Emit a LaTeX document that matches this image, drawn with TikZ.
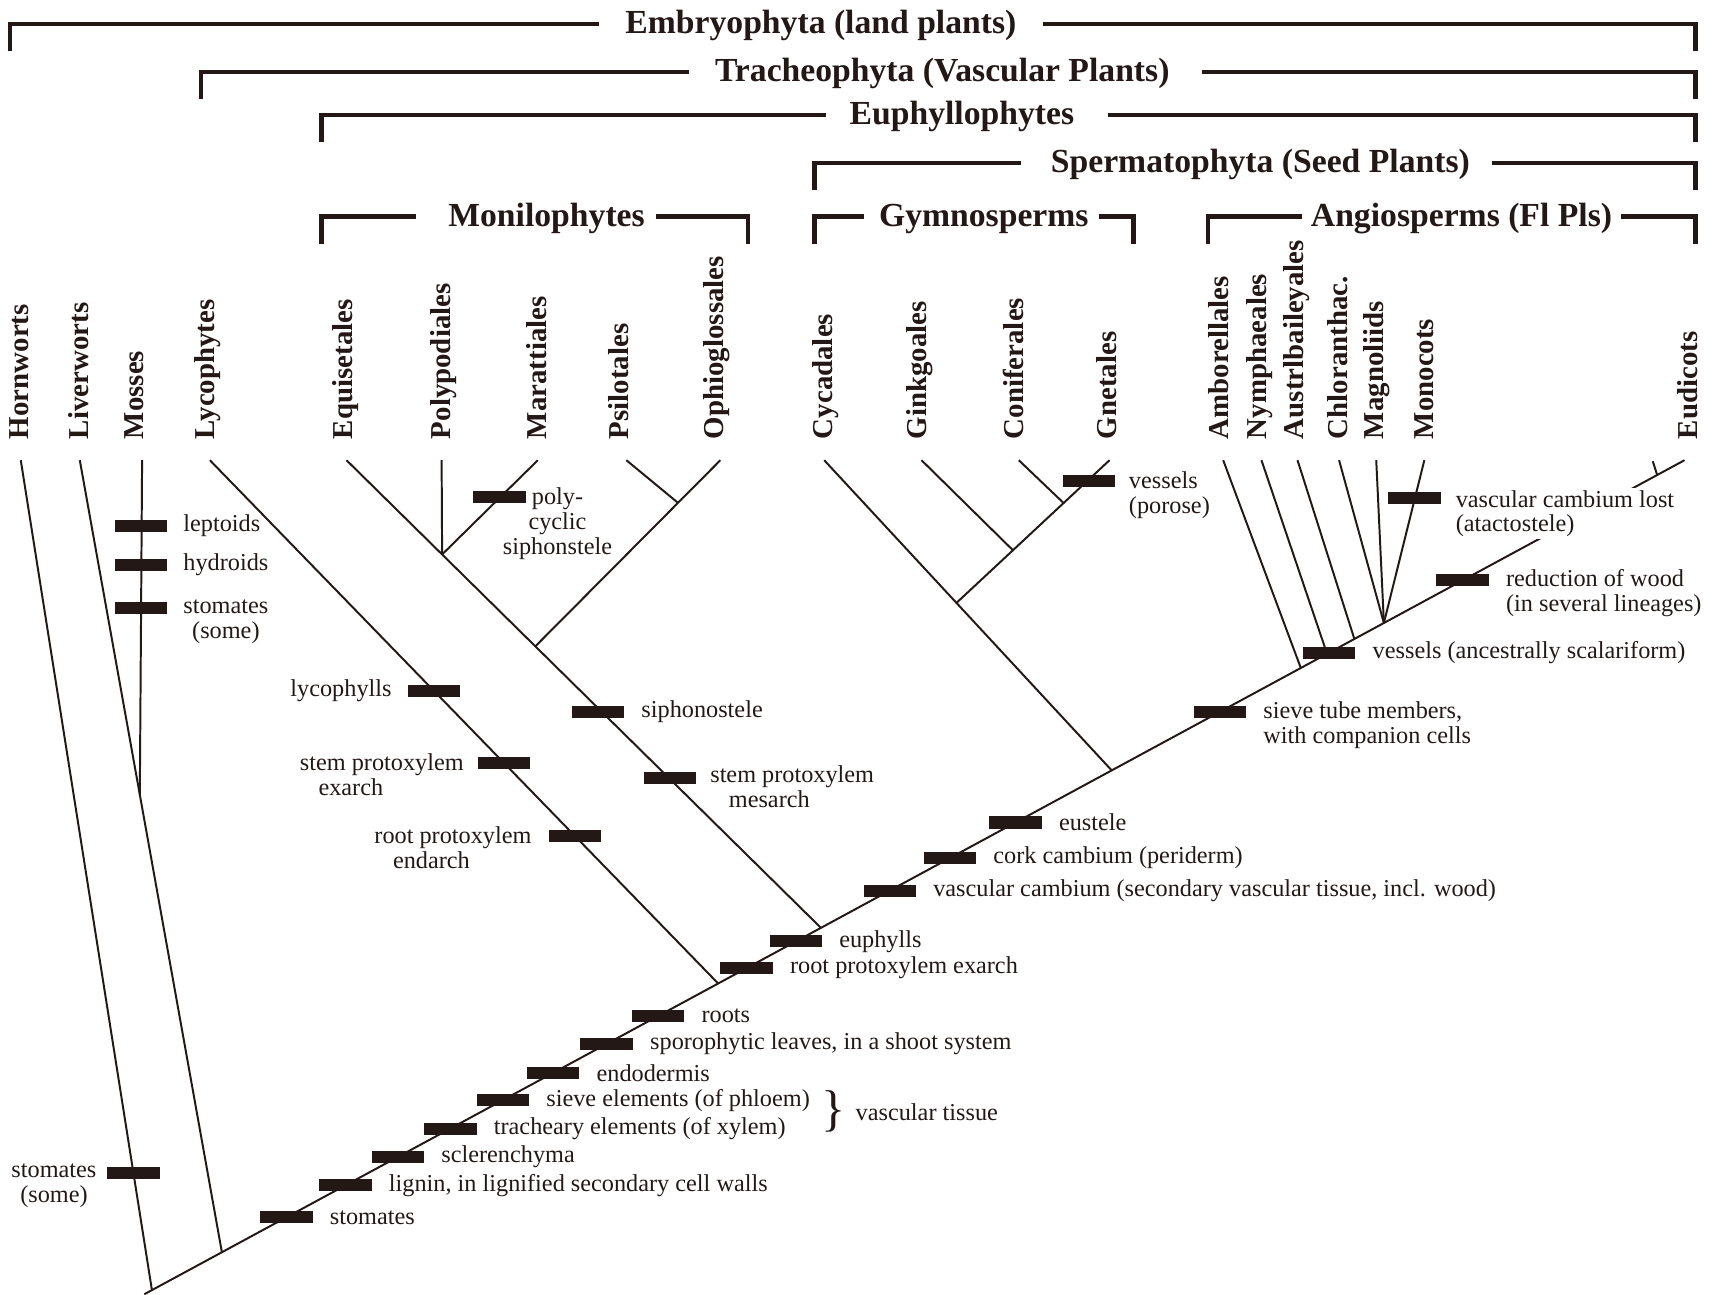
\documentclass[tikz,border=0pt]{standalone}
\usepackage{fontspec}
\setmainfont{Liberation Serif}
\usetikzlibrary{positioning,calc}

\definecolor{ink}{HTML}{231815}
\newcommand{\featfont}{\fontsize{11.1}{11.4}\selectfont}
\newcommand{\taxonfont}{\fontsize{13.2}{14}\selectfont\bfseries}
\newcommand{\cladefont}{\fontsize{15.4}{17}\selectfont\bfseries}

\tikzset{
  branch/.style={draw=ink, line width=0.9pt},
  bracket/.style={draw=ink, line width=2pt},
  bar/.style={fill=ink, minimum width=24pt, minimum height=5.5pt, inner sep=0pt},
  feat/.style={font=\featfont, text=ink, inner sep=0pt, align=left},
  taxon/.style={font=\taxonfont, text=ink, inner sep=0pt, rotate=90, anchor=west},
  clade/.style={font=\cladefont, text=ink, inner sep=0pt, anchor=base},
}

\begin{document}
\begin{tikzpicture}[x=0.5pt, y=-0.5pt]
\useasboundingbox (0,0) rectangle (1568,1184);

% clade brackets
\foreach \xl/\xa/\xb/\xr/\yy/\xc/\txt [count=\i] in {
    9/548/954/1551/22/751/{Embryophyta (land plants)},
    184/630/1100/1551/66/862/{Tracheophyta (Vascular Plants)},
    294/756/1014/1551/105/880/Euphyllophytes,
    745/934/1365/1551/149/1153/{Spermatophyta (Seed Plants)},
    294/381/600/684/198/500/Monilophytes,
    745/790/1005/1037/198/900/Gymnosperms,
    1105/1191/1483/1551/198/1337/{Angiosperms (Fl Pls)}}{
  \draw[bracket] (\xl,\yy+25) |- (\xa,\yy);
  \draw[bracket] (\xb,\yy) -| (\xr,\yy+25);
  \node[clade] (clade\i) at (\xc,\yy+9) {\txt};
}

% taxa (label + branch tip)
\foreach \n/\lx/\tx/\name in {hw/18/19/Hornworts, lw/72/73/Liverworts,
    mo/123/130/Mosses, ly/190/192/Lycophytes, eq/316/317/Equisetales,
    pp/406/404/Polypodiales, ma/491/492/Marattiales, ps/566/573/Psilotales,
    op/656/659/Ophioglossales, cy/755/754/Cycadales, gi/841/843/Ginkgoales,
    co/927/932/Coniferales, gn/1012/1015/Gnetales, am/1115/1119/Amborellales,
    ny/1152/1154/Nymphaeales, au/1186/1187/Austrlbaileyales,
    ch/1224/1225/Chloranthac., mg/1259/1259/Magnoliids, mc/1303/1303/Monocots,
    eu/1544/1541/Eudicots}{
  \node[taxon] (t\n) at (\lx,402) {\name};
  \coordinate (\n) at (\tx,421);
}

% backbone and its junctions
\coordinate (root) at (132,1184);
\foreach \n/\x in {jhw/139, jlw/203, jly/657, jeu/751, jsp/1017,
    jam/1190, jny/1214, jau/1239, jmo/1266, jtk/1516}{
  \pgfmathsetmacro{\yy}{1184-0.5415*(\x-132)}
  \coordinate (\n) at (\x,\yy);
}
\draw[branch] (root) -- (eu);

% bryophytes
\draw[branch] (hw) -- (jhw);
\draw[branch] (lw) -- (jlw);
\coordinate (jmoss) at ($(lw)!0.4224!(jlw)$);
\draw[branch] (mo) -- (jmoss);

% lycophytes, monilophytes
\draw[branch] (ly) -- (jly);
\draw[branch] (eq) -- (jeu);
\coordinate (jpm) at ($(eq)!0.2015!(jeu)$);
\draw[branch] (pp) -- (jpm);
\draw[branch] (ma) -- (jpm);
\coordinate (jop) at ($(eq)!0.398!(jeu)$);
\draw[branch] (op) -- (jop);
\coordinate (jps) at ($(op)!0.229!(jop)$);
\draw[branch] (ps) -- (jps);

% gymnosperms
\draw[branch] (cy) -- (jsp);
\coordinate (jgy) at ($(cy)!0.46!(jsp)$);
\draw[branch] (gn) -- (jgy);
\coordinate (jgi) at ($(gn)!0.631!(jgy)$);
\draw[branch] (gi) -- (jgi);
\coordinate (jco) at ($(gn)!0.3!(jgy)$);
\draw[branch] (co) -- (jco);

% angiosperms
\draw[branch] (am) -- (jam);
\draw[branch] (ny) -- (jny);
\draw[branch] (au) -- (jau);
\foreach \n in {ch,mg,mc}
  \draw[branch] (\n) -- (jmo);
\coordinate (tk) at (1512,422);
\draw[branch] (jtk) -- (tk);

% character bars on the backbone
\foreach \x/\txt in {262/stomates, 316/{lignin, in lignified secondary cell walls},
    364/sclerenchyma, 412/{tracheary elements (of xylem)},
    460/{sieve elements (of phloem)}, 506/endodermis,
    555/{sporophytic leaves, in a shoot system}, 602/roots,
    683/{root protoxylem exarch}, 728/euphylls,
    814/{vascular cambium (secondary vascular tissue, incl. wood)},
    869/{cork cambium (periderm)}, 929/eustele,
    1216/{vessels (ancestrally scalariform)}}{
  \pgfmathsetmacro{\yy}{1184-0.5415*(\x-132)}
  \node[bar] (bb\x) at (\x,\yy) {};
  \node[feat, right=7.5pt of bb\x] (lb\x) {\txt};
}
\foreach \x/\txt in {1116/{sieve tube members,\\with companion cells},
    1338/{reduction of wood\\(in several lineages)}}{
  \pgfmathsetmacro{\yy}{1184-0.5415*(\x-132)}
  \node[bar] (bb\x) at (\x,\yy) {};
  \node[feat, anchor=north west] (lb\x) at ([xshift=7.5pt,yshift=5pt]bb\x.east) {\txt};
}

% vascular tissue brace
\node[feat, font=\fontsize{23}{23}\selectfont] (brace) at (763,1017) {\}};
\node[feat, right=4pt of brace] (vasc) {vascular tissue};

% bryophyte bars
\node[bar] (hb) at (122,1073) {};
\node[feat, align=center, anchor=north east] (hbl) at ([xshift=-4.5pt,yshift=4.5pt]hb.west) {stomates\\(some)};
\foreach \y/\txt [count=\i] in {481/leptoids, 517/hydroids}{
  \node[bar] (mb\i) at (129,\y) {};
  \node[feat, right=7pt of mb\i] (ml\i) {\txt};
}
\node[bar] (mb3) at (129,556) {};
\node[feat, align=center, anchor=north west] (ml3) at ([xshift=7pt,yshift=4pt]mb3.east) {stomates\\(some)};

% lycophyte bars
\node[bar] (lyb1) at (397,632) {};
\node[feat, left=7pt of lyb1] (lyl1) {lycophylls};
\node[bar] (lyb2) at (461,698) {};
\node[feat, anchor=north east] (lyl2) at ([xshift=-6pt,yshift=4.5pt]lyb2.west) {stem protoxylem\\\hspace{8.5pt}exarch};
\node[bar] (lyb3) at (526,765) {};
\node[feat, anchor=north east] (lyl3) at ([xshift=-7.5pt,yshift=4.5pt]lyb3.west) {root protoxylem\\\hspace{8.5pt}endarch};

% monilophyte bars
\node[bar] (mob1) at (457,455) {};
\node[feat, align=center, anchor=north] (mol1) at (510,446) {poly-\\cyclic\\siphonstele};
\node[bar] (mob2) at (547,651) {};
\node[feat, right=7.5pt of mob2] (mol2) {siphonostele};
\node[bar] (mob3) at (613,712) {};
\node[feat, anchor=north west] (mol3) at ([xshift=6pt,yshift=6pt]mob3.east) {stem protoxylem\\\hspace{8.5pt}mesarch};

% gnetales, monocots
\node[bar] (gnb) at (996,440) {};
\node[feat, anchor=north west] (gnl) at ([xshift=6pt,yshift=4.5pt]gnb.east) {vessels\\(porose)};
\node[bar] (mcb) at (1294,456) {};
\node[feat, anchor=north west, fill=white, inner sep=1pt] (mcl) at ([xshift=5.5pt,yshift=5pt]mcb.east) {vascular cambium lost\\(atactostele)};

\end{tikzpicture}
\end{document}
